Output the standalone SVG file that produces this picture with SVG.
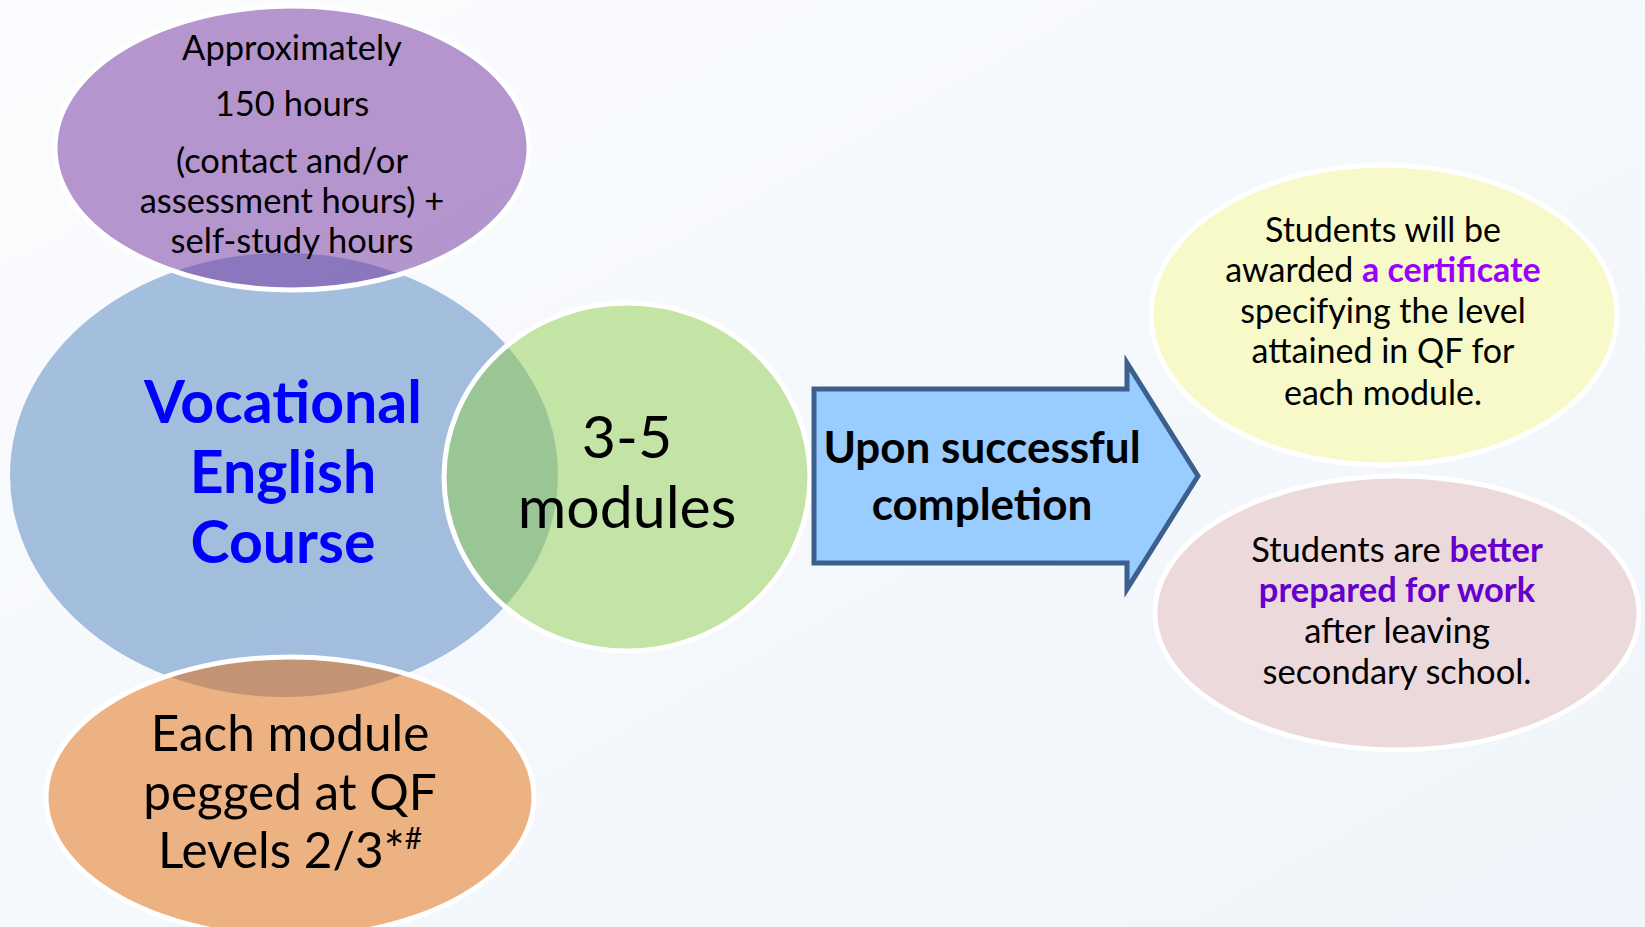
<svg xmlns="http://www.w3.org/2000/svg" width="1645" height="927" viewBox="0 0 1645 927">
<defs>
<linearGradient id="bg" x1="0" y1="0" x2="1" y2="1">
<stop offset="0" stop-color="#fbfcfe"/>
<stop offset="1" stop-color="#eff5fa"/>
</linearGradient>
<style>
.ell{stroke:#ffffff;stroke-width:5}
.t{font-family:Lato,"Open Sans","Liberation Sans",sans-serif;fill:#000;text-anchor:middle}
.b{font-weight:bold}
</style>
</defs>
<rect x="0" y="0" width="1645" height="927" fill="url(#bg)"/>
<g id="course">
<ellipse cx="284" cy="475" rx="274" ry="222" fill="#4F81BD" fill-opacity="0.5"/>
<text class="t b" font-size="59" style="fill:#0000ff"><tspan x="283" y="423">Vocational</tspan><tspan x="283" y="493">English</tspan><tspan x="283" y="563">Course</tspan></text>
</g>
<g id="modules">
<ellipse class="ell" cx="627" cy="477" rx="183" ry="174" fill="#92D050" fill-opacity="0.5"/>
<text class="t" font-size="59"><tspan x="627" y="458">3-5</tspan><tspan x="627" y="528">modules</tspan></text>
</g>
<g id="hours">
<ellipse class="ell" cx="292" cy="148" rx="237" ry="142" fill="#7030A0" fill-opacity="0.5"/>
<text class="t" font-size="34.5"><tspan x="292" y="60">Approximately</tspan><tspan x="292" y="116">150 hours</tspan><tspan x="292" y="173">(contact and/or</tspan><tspan x="292" y="213">assessment hours) +</tspan><tspan x="292" y="253">self-study hours</tspan></text>
</g>
<g id="levels">
<ellipse class="ell" cx="290" cy="797" rx="244" ry="140" fill="#E46C0A" fill-opacity="0.5"/>
<text class="t" font-size="49.5"><tspan x="290" y="751">Each module</tspan><tspan x="290" y="810">pegged at QF</tspan><tspan x="290" y="868">Levels 2/3*<tspan font-size="30" dy="-19">#</tspan></tspan></text>
</g>
<g id="completion">
<polygon points="814,389 1127,389 1127,363 1198,476 1127,589 1127,563 814,563" fill="#99ccff" stroke="#3d5f8e" stroke-width="5" stroke-linejoin="miter"/>
<text class="t b" font-size="44"><tspan x="982" y="463">Upon successful</tspan><tspan x="982" y="520">completion</tspan></text>
</g>
<g id="certificate">
<ellipse class="ell" cx="1384" cy="315" rx="233" ry="150" fill="#f7f9c9"/>
<text class="t" font-size="34"><tspan x="1383" y="242">Students will be</tspan><tspan x="1383" y="282">awarded <tspan class="b" style="fill:#9900ff">a certificate</tspan></tspan><tspan x="1383" y="323">specifying the level</tspan><tspan x="1383" y="363">attained in QF for</tspan><tspan x="1383" y="405">each module.</tspan></text>
</g>
<g id="prepared">
<ellipse class="ell" cx="1397" cy="613" rx="242" ry="137" fill="#ecd9dc"/>
<text class="t" font-size="34.5"><tspan x="1397" y="562">Students are <tspan class="b" style="fill:#6600cc">better</tspan></tspan><tspan class="b" x="1397" y="602" style="fill:#6600cc">prepared for work</tspan><tspan x="1397" y="643">after leaving</tspan><tspan x="1397" y="684">secondary school.</tspan></text>
</g>
<g id="connectors"/>
</svg>
